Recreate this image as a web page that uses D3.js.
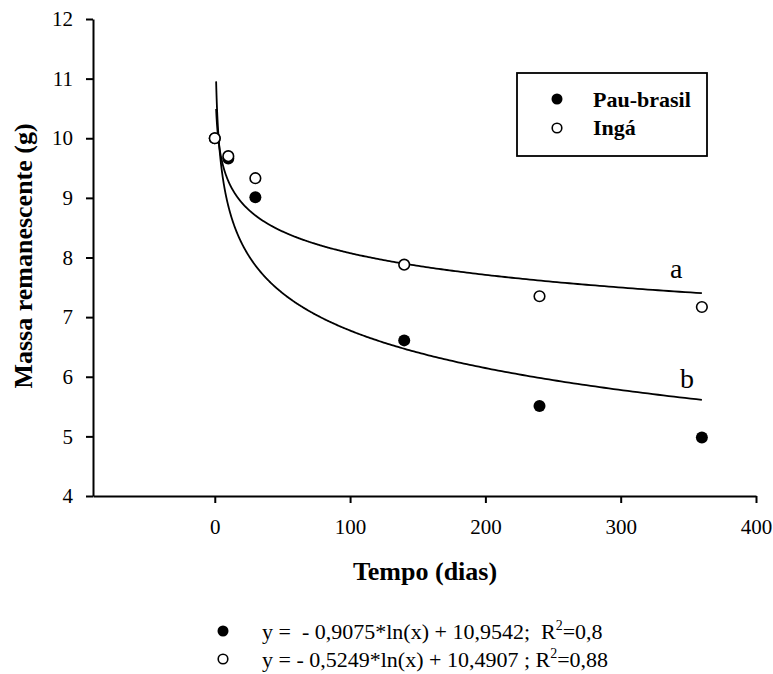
<!DOCTYPE html>
<html>
<head>
<meta charset="utf-8">
<script src="https://cdn.jsdelivr.net/npm/d3@7"></script>
<style>
  html, body { margin: 0; padding: 0; background: #fff; }
  svg { display: block; }
  svg text { font-family: "Liberation Serif", Tinos, "Times New Roman", Times, "Nimbus Roman", "DejaVu Serif", serif; fill: #000; }
</style>
</head>
<body>
<svg id="chart" width="773" height="674"></svg>
<script>
// Sampling days and remaining litter mass (g)
const days = [0, 10, 30, 140, 240, 360];
const pauBrasil = [10.0, 9.66, 9.01, 6.61, 5.51, 4.98];
const inga = [10.0, 9.70, 9.33, 7.88, 7.35, 7.17];

// Logarithmic fits: y = slope * ln(x) + intercept
const pauFit = [-0.9075, 10.9542];
const ingaFit = [-0.5249, 10.4907];

const xTicks = [0, 100, 200, 300, 400];
const yTicks = [4, 5, 6, 7, 8, 9, 10, 11, 12];

const seriesNames = ["Pau-brasil", "Ingá"];
const curveLabels = ["b", "a"];
const equationPau = ["y =  - 0,9075*ln(x) + 10,9542;  R", "2", "=0,8"];
const equationInga = ["y = - 0,5249*ln(x) + 10,4907 ; R", "2", "=0,88"];

const FONT = '"Liberation Serif", Tinos, "Times New Roman", Times, "Nimbus Roman", "DejaVu Serif", serif';

const svg = d3.select("#chart");

const x = d3.scaleLinear().domain([-90, 400]).range([93, 756]);
const y = d3.scaleLinear().domain([4, 12]).range([496, 19]);

// Axes
const yAxis = d3.axisLeft(y).tickValues(yTicks).tickSize(7).tickSizeOuter(0).tickPadding(13);
const xAxis = d3.axisBottom(x).tickValues(xTicks).tickSize(7).tickSizeOuter(0).tickPadding(16);

const gy = svg.append("g").attr("transform", `translate(${x.range()[0]},0)`).call(yAxis);
const gx = svg.append("g").attr("transform", `translate(0,${y.range()[0]})`).call(xAxis);

[gx, gy].forEach(g => {
  g.attr("font-family", null).attr("font-size", null);
  g.select(".domain").attr("stroke", "#000").attr("stroke-width", 2);
  g.selectAll(".tick line").attr("stroke", "#000").attr("stroke-width", 2);
  g.selectAll(".tick text")
    .style("font-family", FONT)
    .style("font-size", "21px")
    .attr("fill", "#000");
});

// Axis titles
svg.append("text")
  .attr("transform", `translate(32,256) rotate(-90)`)
  .attr("text-anchor", "middle")
  .style("font-family", FONT)
  .style("font-size", "26px")
  .style("font-weight", "bold")
  .text("Massa remanescente (g)");

svg.append("text")
  .attr("x", 425)
  .attr("y", 580)
  .attr("text-anchor", "middle")
  .style("font-family", FONT)
  .style("font-size", "26px")
  .style("font-weight", "bold")
  .text("Tempo (dias)");

// Fitted curves
const logSteps = d3.range(0, 1.0001, 0.002).map(u => Math.exp(u * Math.log(360)));
const fitLine = coef => d3.line()
  .x(d => x(d))
  .y(d => y(coef[0] * Math.log(d) + coef[1]));

[pauFit, ingaFit].forEach(coef => {
  svg.append("path")
    .datum(logSteps)
    .attr("d", fitLine(coef))
    .attr("fill", "none")
    .attr("stroke", "#000")
    .attr("stroke-width", 1.8);
});

// Curve letters
svg.append("text").attr("x", 670).attr("y", 278)
  .style("font-family", FONT).style("font-size", "28px").text(curveLabels[1]);
svg.append("text").attr("x", 680).attr("y", 388)
  .style("font-family", FONT).style("font-size", "28px").text(curveLabels[0]);

// Observed points: filled for Pau-brasil, open for Ingá (drawn on top)
svg.append("g").selectAll("circle")
  .data(days.map((d, i) => [d, pauBrasil[i]]))
  .join("circle")
  .attr("cx", d => x(d[0]))
  .attr("cy", d => y(d[1]))
  .attr("r", 6)
  .attr("fill", "#000");

svg.append("g").selectAll("circle")
  .data(days.map((d, i) => [d, inga[i]]))
  .join("circle")
  .attr("cx", d => x(d[0]))
  .attr("cy", d => y(d[1]))
  .attr("r", 5.3)
  .attr("fill", "#fff")
  .attr("stroke", "#000")
  .attr("stroke-width", 1.6);

// Legend
const legend = svg.append("g");
legend.append("rect")
  .attr("x", 517).attr("y", 73).attr("width", 190).attr("height", 83)
  .attr("fill", "#fff").attr("stroke", "#000").attr("stroke-width", 1.8);
legend.append("circle").attr("cx", 557).attr("cy", 99).attr("r", 5.5).attr("fill", "#000");
legend.append("circle").attr("cx", 557).attr("cy", 128).attr("r", 4.8)
  .attr("fill", "#fff").attr("stroke", "#000").attr("stroke-width", 1.6);
legend.append("text").attr("x", 593).attr("y", 107)
  .style("font-family", FONT).style("font-size", "22px").style("font-weight", "bold").text(seriesNames[0]);
legend.append("text").attr("x", 593).attr("y", 135)
  .style("font-family", FONT).style("font-size", "22px").style("font-weight", "bold").text(seriesNames[1]);

// Regression equations below the chart
const eqRows = [
  { parts: equationPau, y: 639, filled: true },
  { parts: equationInga, y: 667, filled: false }
];
eqRows.forEach(row => {
  const c = svg.append("circle").attr("cx", 223).attr("cy", row.y - 8);
  if (row.filled) c.attr("r", 5.5).attr("fill", "#000");
  else c.attr("r", 4.8).attr("fill", "#fff").attr("stroke", "#000").attr("stroke-width", 1.6);

  const t = svg.append("text")
    .attr("x", 262).attr("y", row.y)
    .attr("xml:space", "preserve")
    .style("white-space", "pre")
    .style("font-family", FONT)
    .style("font-size", "22px");
  t.append("tspan").text(row.parts[0]);
  t.append("tspan").attr("dy", -9).style("font-size", "14px").text(row.parts[1]);
  t.append("tspan").attr("dy", 9).text(row.parts[2]);
});
</script>
</body>
</html>
